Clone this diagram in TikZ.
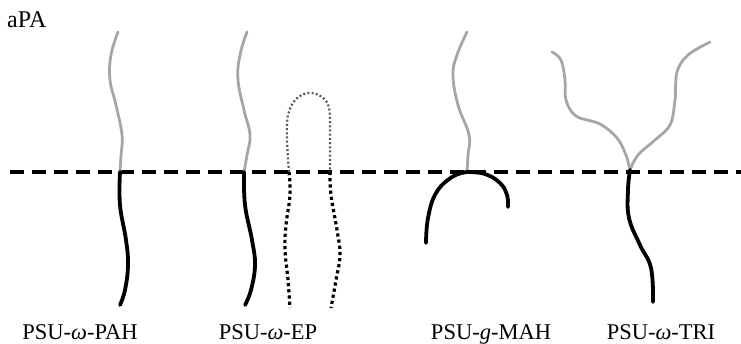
\documentclass[tikz,border=0pt]{standalone}
\usepackage{fontspec}
\setmainfont{Liberation Serif}
\begin{document}
\begin{tikzpicture}[x=1pt,y=-1pt,
  membrane/.style={line width=3.4pt,dash pattern=on 14pt off 8pt},
  graft/.style={line width=2.8pt,gray!70,line cap=round},
  backbone/.style={line width=3.8pt,black,line cap=round},
  epup/.style={line width=2.2pt,black!65,dash pattern=on 2pt off 2.2pt},
  eplow/.style={line width=3.2pt,black,dash pattern=on 3.2pt off 3pt},
  lbl/.style={font=\fontsize{22.5}{25}\selectfont,anchor=base,inner sep=0pt}]
\useasboundingbox (0,0) rectangle (741,343);
\node[lbl,font=\fontsize{24}{26}\selectfont,anchor=base west] (title) at (7,27) {aPA};
\coordinate (mL) at (10,172);
\coordinate (mR) at (741,172);
\draw[membrane] (mL) -- (mR);
% PAH
\coordinate (j1) at (120,172);
\draw[graft] plot[smooth,tension=0.7] coordinates {(118,32) (111,55) (110,80) (116,105) (122,135) (121,155) (j1)};
\draw[backbone] plot[smooth,tension=0.7] coordinates {(j1) (120,205) (126,240) (128,265) (125,290) (120,305)};
% EP (grafted chain with backbone)
\coordinate (j2) at (244,172);
\draw[graft] plot[smooth,tension=0.7] coordinates {(247,32) (240,55) (238,80) (244,110) (250,135) (247,155) (j2)};
\draw[backbone] plot[smooth,tension=0.7] coordinates {(j2) (245,205) (252,240) (255,265) (251,290) (245,305)};
% EP loop
\coordinate (e1) at (289,172);
\coordinate (e2) at (330,172);
\draw[epup] plot[smooth,tension=0.6] coordinates {(e1) (287,140) (288,115) (296,99) (309,93) (322,97) (329,108) (330,135) (e2)};
\draw[eplow] plot[smooth,tension=0.7] coordinates {(e1) (290,195) (286,225) (285,250) (288,280) (290,308)};
\draw[eplow] plot[smooth,tension=0.7] coordinates {(e2) (331,195) (337,230) (340,255) (336,280) (331,308)};
% MAH
\coordinate (j3) at (467,172);
\draw[graft] plot[smooth,tension=0.7] coordinates {(467,32) (457,55) (453,75) (458,105) (469,135) (468,155) (j3)};
\draw[backbone] plot[smooth,tension=0.7] coordinates {(426,243) (428,218) (436,193) (452,177) (j3)};
\draw[backbone] plot[smooth,tension=0.7] coordinates {(j3) (485,174) (500,183) (507,195) (508,207)};
% TRI
\coordinate (j4) at (630,170);
\draw[graft] plot[smooth,tension=0.6] coordinates {(552,52) (561,60) (565,80) (566,100) (576,116) (600,124) (617,138) (626,155) (j4)};
\draw[graft] plot[smooth,tension=0.6] coordinates {(j4) (638,155) (655,140) (670,125) (675,100) (677,72) (688,55) (710,42)};
\draw[backbone] plot[smooth,tension=0.7] coordinates {(j4) (628,190) (629,218) (640,245) (651,268) (653,302)};
% labels
\node[lbl] (l1) at (80,339) {PSU-\textit{ω}-PAH};
\node[lbl] (l2) at (268,339) {PSU-\textit{ω}-EP};
\node[lbl] (l3) at (491,339) {PSU-\textit{g}-MAH};
\node[lbl] (l4) at (661,339) {PSU-\textit{ω}-TRI};
\end{tikzpicture}
\end{document}
